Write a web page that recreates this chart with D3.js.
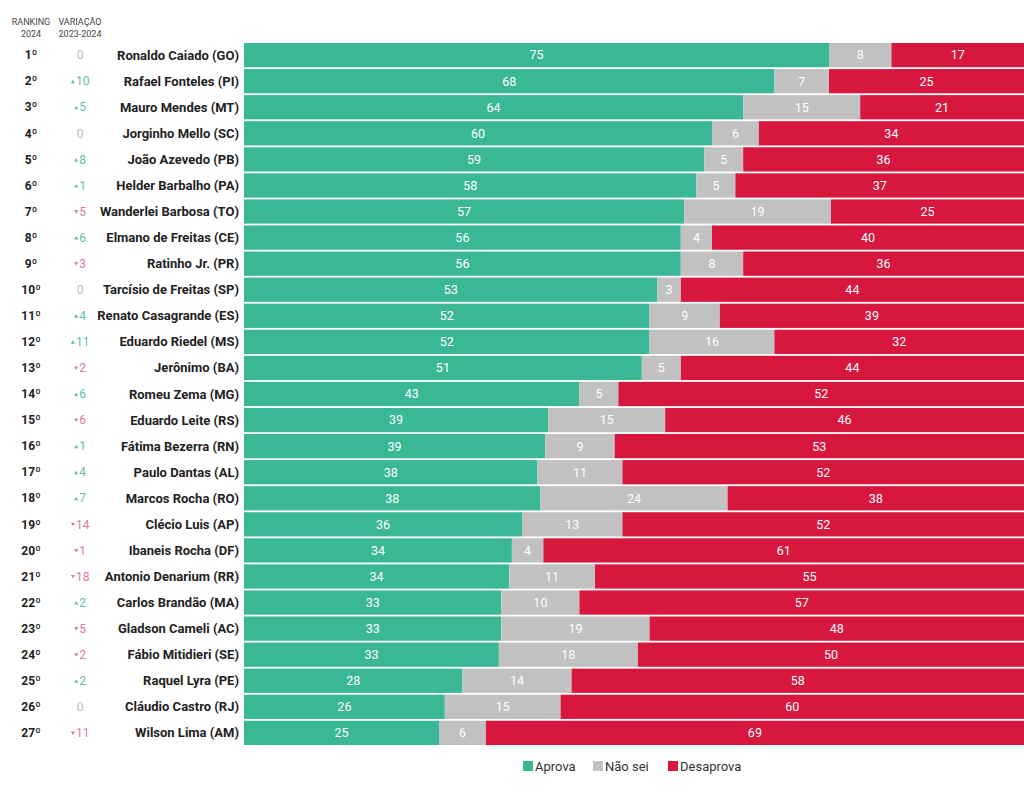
<!DOCTYPE html>
<html><head><meta charset="utf-8">
<script src="https://cdn.jsdelivr.net/npm/d3@7"></script>
<style>body{margin:0;background:#fff}svg{display:block;font-family:Roboto,sans-serif}</style>
</head><body><svg id="c" width="1024" height="789"></svg>
<script>
const names = ["Ronaldo Caiado (GO)","Rafael Fonteles (PI)","Mauro Mendes (MT)","Jorginho Mello (SC)","João Azevedo (PB)","Helder Barbalho (PA)","Wanderlei Barbosa (TO)","Elmano de Freitas (CE)","Ratinho Jr. (PR)","Tarcísio de Freitas (SP)","Renato Casagrande (ES)","Eduardo Riedel (MS)","Jerônimo (BA)","Romeu Zema (MG)","Eduardo Leite (RS)","Fátima Bezerra (RN)","Paulo Dantas (AL)","Marcos Rocha (RO)","Clécio Luis (AP)","Ibaneis Rocha (DF)","Antonio Denarium (RR)","Carlos Brandão (MA)","Gladson Cameli (AC)","Fábio Mitidieri (SE)","Raquel Lyra (PE)","Cláudio Castro (RJ)","Wilson Lima (AM)"];
const ranks = ["1º","2º","3º","4º","5º","6º","7º","8º","9º","10º","11º","12º","13º","14º","15º","16º","17º","18º","19º","20º","21º","22º","23º","24º","25º","26º","27º"];
const variacao = [0,10,5,0,8,1,-5,6,-3,0,4,11,-2,6,-6,1,4,7,-14,-1,-18,2,-5,-2,2,0,-11];
const aprova = [75,68,64,60,59,58,57,56,56,53,52,52,51,43,39,39,38,38,36,34,34,33,33,33,28,26,25];
const naoSei = [8,7,15,6,5,5,19,4,8,3,9,16,5,5,15,9,11,24,13,4,11,10,19,18,14,15,6];
const desaprova = [17,25,21,34,36,37,25,40,36,44,39,32,44,52,46,53,52,38,52,61,55,57,48,50,58,60,69];
const seriesKeys = ["Aprova","Não sei","Desaprova"];
const colors = ["#3ab795","#c1c1c1","#d8173f"];

const table = names.map((n,i)=>({name:n, "Aprova":aprova[i], "Não sei":naoSei[i], "Desaprova":desaprova[i]}));
const stack = d3.stack().keys(seriesKeys).offset(d3.stackOffsetExpand)(table);

const svg = d3.select("#c");
const x = d3.scaleLinear().domain([0,1]).range([244,1024]);
const y = d3.scaleBand().domain(names).range([43,745]).paddingInner(0.07).paddingOuter(0);
const color = d3.scaleOrdinal().domain(seriesKeys).range(colors);

const g = svg.append("g");
stack.forEach(s=>{
  const layer = g.append("g").attr("fill", color(s.key));
  layer.selectAll("rect").data(s).join("rect")
    .attr("x", d=>x(d[0])).attr("width", d=>x(d[1])-x(d[0]))
    .attr("y", d=>y(d.data.name)).attr("height", y.bandwidth());
  g.append("g").selectAll("text").data(s).join("text")
    .attr("x", d=>(x(d[0])+x(d[1]))/2).attr("y", d=>y(d.data.name)+y.bandwidth()/2)
    .attr("dy","0.35em").attr("text-anchor","middle")
    .attr("fill","#fff").attr("font-size",12.5).attr("font-weight",400)
    .text(d=>d.data[s.key]);
});

// names
svg.append("g").selectAll("text").data(names).join("text")
  .attr("x",239).attr("y",d=>y(d)+y.bandwidth()/2).attr("dy","0.35em")
  .attr("text-anchor","end").attr("font-size",13).attr("font-weight",700).attr("fill","#222")
  .text(d=>d);
// ranks
svg.append("g").selectAll("text").data(names).join("text")
  .attr("x",31).attr("y",d=>y(d)+y.bandwidth()/2).attr("dy","0.35em")
  .attr("text-anchor","middle").attr("font-size",12).attr("font-weight",700).attr("fill","#222")
  .text((d,i)=>ranks[i]);
// variacao
const vg = svg.append("g").selectAll("g").data(names).join("g")
  .attr("transform",d=>`translate(80,${y(d)+y.bandwidth()/2})`);
vg.each(function(d,i){
  const v = variacao[i];
  const el = d3.select(this);
  const col = v>0?"#5dbf9f":v<0?"#d87a93":"#bdbdbd";
  const t = el.append("text").attr("dy","0.35em").attr("font-size",12).attr("fill",col);
  if(v===0){ t.attr("text-anchor","middle").text("0"); return; }
  const label = String(Math.abs(v));
  const w = label.length*6.6;
  const total = w+5;
  const sx = -total/2;
  t.attr("x", sx+5).attr("text-anchor","start").text(label);
  const tri = v>0 ? `M${sx},2 L${sx+4},2 L${sx+2},-1.5 Z` : `M${sx},-1.5 L${sx+4},-1.5 L${sx+2},2 Z`;
  el.append("path").attr("d",tri).attr("fill",col);
});
// headers
const hdr = svg.append("g").attr("font-size",9).attr("fill","#444").attr("text-anchor","middle");
hdr.append("text").attr("x",31).attr("y",25).text("RANKING");
hdr.append("text").attr("x",31).attr("y",37).text("2024");
hdr.append("text").attr("x",80).attr("y",25).text("VARIAÇÃO");
hdr.append("text").attr("x",80).attr("y",37).text("2023-2024");

// legend
const leg = svg.append("g").attr("transform","translate(0,766)");
const legX = [523,593,668];
seriesKeys.forEach((k,i)=>{
  leg.append("rect").attr("x",legX[i]).attr("y",-5).attr("width",10).attr("height",10).attr("fill",color(k));
  leg.append("text").attr("x",legX[i]+12).attr("dy","0.35em").attr("font-size",13).attr("fill","#333").text(k);
});
</script></body></html>
